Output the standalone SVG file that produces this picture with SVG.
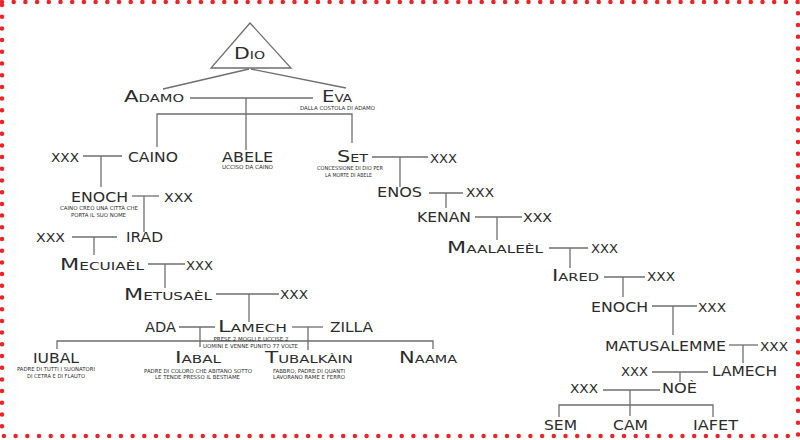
<svg xmlns="http://www.w3.org/2000/svg" width="800" height="440" viewBox="0 0 800 440">
<style>
text{font-family:"DejaVu Sans","Liberation Sans",sans-serif;fill:#2b2b2b;text-anchor:middle}
.n{font-size:13.5px}
.s{font-size:16px;font-variant:small-caps}
.x{font-size:12px}
.c{font-size:5.5px}
#links line,#links polyline{stroke:#6e6e6e;stroke-width:1.3;fill:none}
</style>
<rect x="2" y="2" width="796" height="434" fill="#fff" stroke="#e8262a" stroke-width="4.5" stroke-linecap="round" stroke-dasharray="0 11.7"/>
<g id="links">
<line x1="249" y1="69" x2="163" y2="89"/>
<line x1="251" y1="69" x2="346" y2="88"/>
<line x1="190" y1="98" x2="313" y2="98"/>
<line x1="246" y1="98" x2="246" y2="150"/>
<polyline points="157,147 157,114 352,114 352,143"/>
<line x1="83" y1="156" x2="122" y2="156"/>
<line x1="101" y1="156" x2="101" y2="187"/>
<line x1="132" y1="196" x2="159" y2="196"/>
<line x1="144" y1="196" x2="144" y2="232"/>
<line x1="72" y1="237" x2="117" y2="237"/>
<line x1="94" y1="237" x2="94" y2="255"/>
<line x1="148" y1="264" x2="185" y2="264"/>
<line x1="165" y1="264" x2="165" y2="288"/>
<line x1="216" y1="294" x2="279" y2="294"/>
<line x1="249" y1="294" x2="249" y2="322"/>
<line x1="179" y1="327" x2="215" y2="327"/>
<line x1="200" y1="327" x2="200" y2="347"/>
<line x1="292" y1="327" x2="323" y2="327"/>
<line x1="308" y1="327" x2="308" y2="350"/>
<polyline points="57,349 57,341 433,341 433,349"/>
<line x1="372" y1="157" x2="428" y2="157"/>
<line x1="400" y1="157" x2="400" y2="187"/>
<line x1="429" y1="193" x2="463" y2="193"/>
<line x1="446" y1="193" x2="446" y2="208"/>
<line x1="475" y1="217" x2="522" y2="217"/>
<line x1="497" y1="217" x2="497" y2="240"/>
<line x1="549" y1="248" x2="588" y2="248"/>
<line x1="570" y1="248" x2="570" y2="268"/>
<line x1="604" y1="277" x2="645" y2="277"/>
<line x1="623" y1="277" x2="623" y2="297"/>
<line x1="652" y1="306" x2="697" y2="306"/>
<line x1="673" y1="306" x2="673" y2="335"/>
<line x1="729" y1="345" x2="758" y2="345"/>
<line x1="743" y1="345" x2="743" y2="363"/>
<line x1="652" y1="372" x2="708" y2="372"/>
<line x1="680" y1="372" x2="680" y2="382"/>
<line x1="603" y1="390" x2="660" y2="390"/>
<line x1="630" y1="390" x2="630" y2="416"/>
<polyline points="559,417 559,405 713,405 713,417"/>
</g>
<g id="dio"><polygon points="250,23 211,68 291,68" fill="none" stroke="#6e6e6e" stroke-width="1.3"/><text class="s" x="249.5" y="59" textLength="31" lengthAdjust="spacingAndGlyphs">Dio</text></g>
<g id="adamo"><text class="s" x="154" y="102" textLength="60" lengthAdjust="spacingAndGlyphs">Adamo</text></g>
<g id="eva"><text class="s" x="337" y="102" textLength="30" lengthAdjust="spacingAndGlyphs">Eva</text><text class="c" x="337.5" y="110" textLength="75" lengthAdjust="spacingAndGlyphs">DALLA COSTOLA DI ADAMO</text></g>
<g id="xxx-caino"><text class="x" x="65" y="162" textLength="28" lengthAdjust="spacingAndGlyphs">XXX</text></g>
<g id="caino"><text class="n" x="153" y="162" textLength="50" lengthAdjust="spacingAndGlyphs">CAINO</text></g>
<g id="abele"><text class="n" x="247.5" y="162" textLength="51" lengthAdjust="spacingAndGlyphs">ABELE</text><text class="c" x="247.5" y="169" textLength="51" lengthAdjust="spacingAndGlyphs">UCCISO DA CAINO</text></g>
<g id="set"><text class="s" x="352.5" y="162" textLength="31" lengthAdjust="spacingAndGlyphs">Set</text><text class="c" x="350" y="170" textLength="66" lengthAdjust="spacingAndGlyphs">CONCESSIONE DI DIO PER</text><text class="c" x="348.5" y="177" textLength="47" lengthAdjust="spacingAndGlyphs">LA MORTE DI ABELE</text></g>
<g id="xxx-set"><text class="x" x="443.5" y="163" textLength="27" lengthAdjust="spacingAndGlyphs">XXX</text></g>
<g id="enoch"><text class="n" x="99.5" y="202" textLength="57" lengthAdjust="spacingAndGlyphs">ENOCH</text><text class="c" x="99" y="210" textLength="78" lengthAdjust="spacingAndGlyphs">CAINO CREÒ UNA CITTÀ CHE</text><text class="c" x="98.5" y="217" textLength="55" lengthAdjust="spacingAndGlyphs">PORTA IL SUO NOME</text></g>
<g id="xxx-enoch"><text class="x" x="178.5" y="202" textLength="29" lengthAdjust="spacingAndGlyphs">XXX</text></g>
<g id="enos"><text class="n" x="399.5" y="197" textLength="45" lengthAdjust="spacingAndGlyphs">ENOS</text></g>
<g id="xxx-enos"><text class="x" x="480" y="197" textLength="28" lengthAdjust="spacingAndGlyphs">XXX</text></g>
<g id="xxx-irad"><text class="x" x="50.5" y="242" textLength="29" lengthAdjust="spacingAndGlyphs">XXX</text></g>
<g id="irad"><text class="n" x="144.5" y="242" textLength="37" lengthAdjust="spacingAndGlyphs">IRAD</text></g>
<g id="kenan"><text class="n" x="444" y="222" textLength="54" lengthAdjust="spacingAndGlyphs">KENAN</text></g>
<g id="xxx-kenan"><text class="x" x="537.5" y="222" textLength="29" lengthAdjust="spacingAndGlyphs">XXX</text></g>
<g id="mecuiael"><text class="s" x="102" y="270" textLength="84" lengthAdjust="spacingAndGlyphs">Mecuiaèl</text></g>
<g id="xxx-mecuiael"><text class="x" x="199.5" y="270" textLength="27" lengthAdjust="spacingAndGlyphs">XXX</text></g>
<g id="maalaleel"><text class="s" x="495" y="253" textLength="96" lengthAdjust="spacingAndGlyphs">Maalaleèl</text></g>
<g id="xxx-maalaleel"><text class="x" x="604.5" y="253" textLength="27" lengthAdjust="spacingAndGlyphs">XXX</text></g>
<g id="metusael"><text class="s" x="168" y="300" textLength="88" lengthAdjust="spacingAndGlyphs">Metusaèl</text></g>
<g id="xxx-metusael"><text class="x" x="294" y="299" textLength="28" lengthAdjust="spacingAndGlyphs">XXX</text></g>
<g id="iared"><text class="s" x="575.5" y="281" textLength="47" lengthAdjust="spacingAndGlyphs">Iared</text></g>
<g id="xxx-iared"><text class="x" x="661" y="281" textLength="28" lengthAdjust="spacingAndGlyphs">XXX</text></g>
<g id="ada"><text class="n" x="160.5" y="332" textLength="31" lengthAdjust="spacingAndGlyphs">ADA</text></g>
<g id="lamech"><text class="s" x="252.5" y="332" textLength="69" lengthAdjust="spacingAndGlyphs">Lamech</text><text class="c" x="251" y="341" textLength="75" lengthAdjust="spacingAndGlyphs">PRESE 2 MOGLI E UCCISE 2</text><text class="c" x="250.5" y="348" textLength="95" lengthAdjust="spacingAndGlyphs">UOMINI E VENNE PUNITO 77 VOLTE</text></g>
<g id="zilla"><text class="n" x="351.5" y="332" textLength="43" lengthAdjust="spacingAndGlyphs">ZILLA</text></g>
<g id="iubal"><text class="n" x="56" y="363" textLength="46" lengthAdjust="spacingAndGlyphs">IUBAL</text><text class="c" x="56" y="371" textLength="78" lengthAdjust="spacingAndGlyphs">PADRE DI TUTTI I SUONATORI</text><text class="c" x="56" y="378" textLength="58" lengthAdjust="spacingAndGlyphs">DI CETRA E DI FLAUTO</text></g>
<g id="iabal"><text class="s" x="198" y="363" textLength="46" lengthAdjust="spacingAndGlyphs">Iabal</text><text class="c" x="198" y="372.5" textLength="108" lengthAdjust="spacingAndGlyphs">PADRE DI COLORO CHE ABITANO SOTTO</text><text class="c" x="197.5" y="379" textLength="85" lengthAdjust="spacingAndGlyphs">LE TENDE PRESSO IL BESTIAME</text></g>
<g id="tubalkain"><text class="s" x="309" y="363" textLength="88" lengthAdjust="spacingAndGlyphs">Tubalkàin</text><text class="c" x="309" y="372.5" textLength="72" lengthAdjust="spacingAndGlyphs">FABBRO, PADRE DI QUANTI</text><text class="c" x="309" y="379" textLength="72" lengthAdjust="spacingAndGlyphs">LAVORANO RAME E FERRO</text></g>
<g id="naama"><text class="s" x="428" y="363" textLength="58" lengthAdjust="spacingAndGlyphs">Naama</text></g>
<g id="enoch-2"><text class="n" x="619.5" y="312" textLength="57" lengthAdjust="spacingAndGlyphs">ENOCH</text></g>
<g id="xxx-enoch-2"><text class="x" x="712" y="312" textLength="28" lengthAdjust="spacingAndGlyphs">XXX</text></g>
<g id="matusalemme"><text class="n" x="665.5" y="351" textLength="121" lengthAdjust="spacingAndGlyphs">MATUSALEMME</text></g>
<g id="xxx-matusalemme"><text class="x" x="774" y="351" textLength="28" lengthAdjust="spacingAndGlyphs">XXX</text></g>
<g id="xxx-lamech-2"><text class="x" x="634.5" y="376" textLength="27" lengthAdjust="spacingAndGlyphs">XXX</text></g>
<g id="lamech-2"><text class="n" x="744.5" y="376" textLength="65" lengthAdjust="spacingAndGlyphs">LAMECH</text></g>
<g id="xxx-noe"><text class="x" x="584" y="393" textLength="28" lengthAdjust="spacingAndGlyphs">XXX</text></g>
<g id="noe"><text class="n" x="679.5" y="393" textLength="35" lengthAdjust="spacingAndGlyphs">NOÈ</text></g>
<g id="sem"><text class="n" x="560.5" y="430" textLength="33" lengthAdjust="spacingAndGlyphs">SEM</text></g>
<g id="cam"><text class="n" x="630.5" y="430" textLength="35" lengthAdjust="spacingAndGlyphs">CAM</text></g>
<g id="iafet"><text class="n" x="715.5" y="430" textLength="45" lengthAdjust="spacingAndGlyphs">IAFET</text></g>
</svg>
